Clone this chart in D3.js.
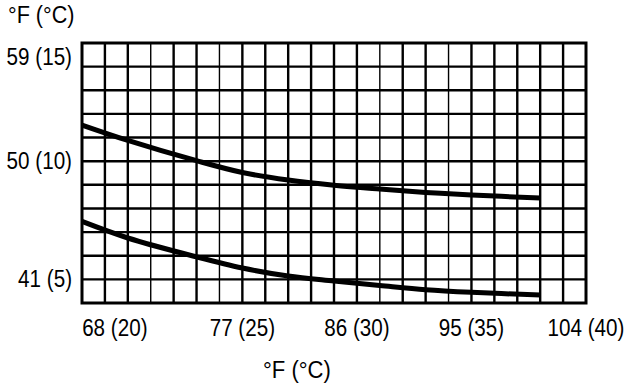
<!DOCTYPE html>
<html>
<head>
<meta charset="utf-8">
<script src="https://cdn.jsdelivr.net/npm/d3@7"></script>
<style>
  body { margin: 0; background: #fff; }
  svg text { font-family: "Liberation Sans", Arial, sans-serif; fill: #000; }
</style>
</head>
<body>
<svg id="chart" width="640" height="386"></svg>
<script>
// outdoor temp (°C) on x, result temp (°C) on y
var xTicks = [20, 25, 30, 35, 40];
var xLabels = ["68 (20)", "77 (25)", "86 (30)", "95 (35)", "104 (40)"];
var yTicks = [5, 10, 15];
var yLabels = ["41 (5)", "50 (10)", "59 (15)"];

var upperX = [18, 20, 23, 25, 27, 29, 31, 33, 35, 38];
var upperY = [11.53, 10.88, 10.02, 9.52, 9.2, 8.98, 8.82, 8.68, 8.57, 8.44];
var lowerX = [18, 20, 23, 25, 27, 29, 31, 33, 35, 38];
var lowerY = [7.45, 6.75, 5.95, 5.48, 5.14, 4.93, 4.74, 4.56, 4.45, 4.34];

var thinCols = [21, 24, 31, 34];

var svg = d3.select("#chart");

var x = d3.scaleLinear().domain([18, 40]).range([82, 586]);
var y = d3.scaleLinear().domain([4, 15]).range([303, 43]);

var gGrid = svg.append("g").attr("class", "grid");

d3.range(19, 40).forEach(function(v){
  gGrid.append("line")
    .attr("x1", x(v)).attr("x2", x(v))
    .attr("y1", y(15)).attr("y2", y(4))
    .attr("stroke", "#000")
    .attr("stroke-width", thinCols.indexOf(v) >= 0 ? 1.4 : 2.4);
});

d3.range(5, 15).forEach(function(v){
  gGrid.append("line")
    .attr("x1", x(18)).attr("x2", x(40))
    .attr("y1", y(v)).attr("y2", y(v))
    .attr("stroke", "#000")
    .attr("stroke-width", 2.4);
});

gGrid.append("rect")
  .attr("x", x(18)).attr("y", y(15))
  .attr("width", x(40) - x(18))
  .attr("height", y(4) - y(15))
  .attr("fill", "none")
  .attr("stroke", "#000")
  .attr("stroke-width", 3);

var line = d3.line()
  .x(function(d){ return x(d[0]); })
  .y(function(d){ return y(d[1]); })
  .curve(d3.curveCatmullRom);

[[upperX, upperY], [lowerX, lowerY]].forEach(function(s){
  var pts = s[0].map(function(v, i){ return [v, s[1][i]]; });
  svg.append("path")
    .datum(pts)
    .attr("d", line)
    .attr("fill", "none")
    .attr("stroke", "#000")
    .attr("stroke-width", 5)
    .attr("stroke-linecap", "butt");
});

// narrow-ish text: squeeze horizontally
function label(px, py, anchor, str, sx){
  svg.append("text")
    .attr("transform", "translate(" + px + "," + py + ") scale(" + (sx || 0.86) + ",1)")
    .attr("text-anchor", anchor)
    .attr("font-size", 24)
    .text(str);
}

xTicks.forEach(function(d, i){
  label(x(d) + (i == 0 ? -13 : 0), 336, "middle", xLabels[i]);
});

yTicks.forEach(function(d, i){
  label(72, y(d) + (d == 15 ? 14 : 0) + 8, "end", yLabels[i]);
});

label(8, 23, "start", "°F (°C)", 0.9);
label(263, 378, "start", "°F  (°C)", 0.92);
</script>
</body>
</html>
